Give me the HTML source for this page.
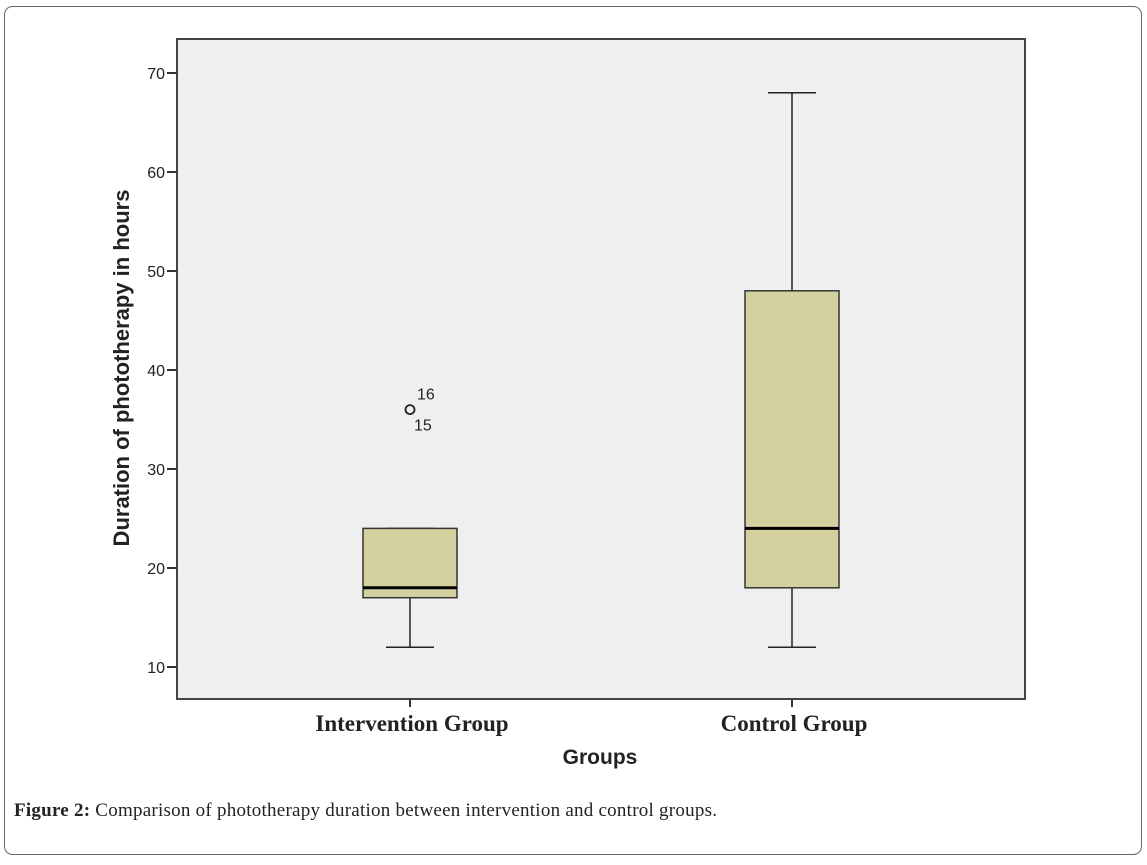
<!DOCTYPE html>
<html><head><meta charset="utf-8"><style>
body{margin:0;background:#fff;width:1147px;height:860px;overflow:hidden;font-family:"Liberation Sans",sans-serif}
</style></head><body>
<svg width="1147" height="860">
<rect x="4.5" y="6.5" width="1137" height="848" rx="8" fill="#fff" stroke="#666" stroke-width="1"/>
<rect x="177" y="39" width="848" height="660" fill="#efefef" stroke="#444" stroke-width="2"/>
<g id="yaxis"></g>
<g id="boxes"></g>
<text transform="translate(129,368) rotate(-90)" text-anchor="middle" font-size="22" font-weight="bold" fill="#222">Duration of phototherapy in hours</text>
<text x="600" y="764" text-anchor="middle" font-size="21" font-weight="bold" fill="#222">Groups</text>
<text x="14" y="816" font-family="Liberation Serif,serif" font-size="19" fill="#222" textLength="703"><tspan font-weight="bold">Figure 2:</tspan> Comparison of phototherapy duration between intervention and control groups.</text>
</svg>
<script>
const categories=["Intervention Group","Control Group"];
const whiskerLow=[12,12];
const q1=[17,18];
const medians=[18,24];
const q3=[24,48];
const whiskerHigh=[24,68];
const outlierValues=[36];
const outlierGroup=[0];
const outlierLabels=["16","15"];
const yTicks=[10,20,30,40,50,60,70];
const NS="http://www.w3.org/2000/svg";
const y=v=>667-(v-10)*9.9;
const xc=[410,792];
function mk(t,a,p){const e=document.createElementNS(NS,t);for(const k in a)e.setAttribute(k,a[k]);p.appendChild(e);return e;}
const ya=document.getElementById('yaxis'),bx=document.getElementById('boxes'),svg=document.querySelector('svg');
yTicks.forEach(v=>{
const l=mk('line',{x1:167,x2:177,y1:y(v),y2:y(v),stroke:'#333','stroke-width':2},ya);


const t=mk('text',{x:165,y:y(v)+6,'text-anchor':'end','font-size':16,fill:'#222'},ya);
t.textContent=v;


});
categories.forEach((c,i)=>{
const x=xc[i],hw=47,cw=24;
const g=mk('g',{},bx);


mk('line',{x1:x,x2:x,y1:y(whiskerLow[i]),y2:y(q1[i]),stroke:'#222','stroke-width':1.5},g);
mk('line',{x1:x,x2:x,y1:y(whiskerHigh[i]),y2:y(q3[i]),stroke:'#222','stroke-width':1.5},g);
mk('line',{x1:x-cw,x2:x+cw,y1:y(whiskerLow[i]),y2:y(whiskerLow[i]),stroke:'#222','stroke-width':1.5},g);
mk('line',{x1:x-cw,x2:x+cw,y1:y(whiskerHigh[i]),y2:y(whiskerHigh[i]),stroke:'#222','stroke-width':1.5},g);
mk('rect',{x:x-hw,y:y(q3[i]),width:2*hw,height:y(q1[i])-y(q3[i]),fill:'#d3d1a0',stroke:'#333','stroke-width':1.5},g);
mk('line',{x1:x-hw,x2:x+hw,y1:y(medians[i]),y2:y(medians[i]),stroke:'#000','stroke-width':3},g);
const tk=mk('line',{x1:x,x2:x,y1:699,y2:707,stroke:'#333','stroke-width':2},g);


const t=mk('text',{x:x+2,y:731,'text-anchor':'middle','font-size':23,'font-weight':'bold','font-family':'Liberation Serif,serif',fill:'#222'},svg);
t.textContent=c;


});
outlierValues.forEach((v,j)=>{
const x=xc[outlierGroup[j]];
const o=mk('circle',{cx:x,cy:y(v),r:4.5,fill:'none',stroke:'#222','stroke-width':1.8},bx);


const a=mk('text',{x:x+7,y:y(v)-10,'font-size':16,fill:'#222'},bx);a.textContent=outlierLabels[0];


const b=mk('text',{x:x+4,y:y(v)+21,'font-size':16,fill:'#222'},bx);b.textContent=outlierLabels[1];


});
</script>
</body></html>
